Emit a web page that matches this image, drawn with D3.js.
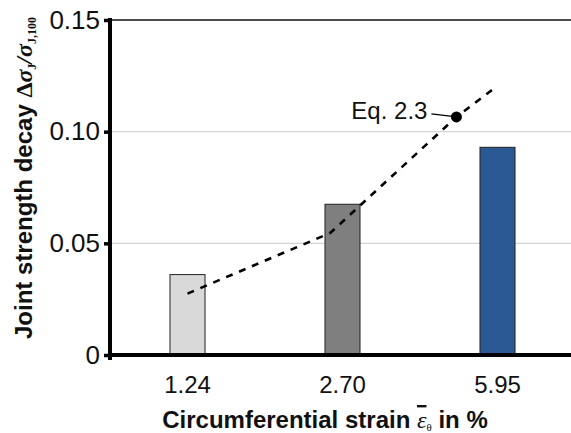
<!DOCTYPE html>
<html>
<head>
<meta charset="utf-8">
<script src="https://cdn.jsdelivr.net/npm/d3@7"></script>
<style>
  html, body { margin: 0; padding: 0; background: #fff; }
  svg { display: block; }
</style>
</head>
<body>
<svg id="chart" width="571" height="433"></svg>
<script>
// Circumferential strain categories and measured joint strength decay
const categories = ["1.24", "2.70", "5.95"];
const decay = [0.036, 0.0675, 0.093];
const barColors = ["#d9d9d9", "#7f7f7f", "#2b5994"];

// Eq. 2.3 curve: position along the strain axis (category index) and value
const eqPos = [0, 0.92, 1.735, 2];
const eqValues = [0.0275, 0.0546, 0.1066, 0.1205];
const eqMarkerIndex = 2;

const yTicks = [0, 0.05, 0.10, 0.15];
const yTickLabels = ["0", "0.05", "0.10", "0.15"];

const svg = d3.select("#chart");
const plotLeft = 110, plotRight = 575, plotTop = 20, plotBottom = 355;

const x = d3.scaleBand().domain(categories).range([plotLeft, plotRight])
  .paddingInner(0.774).paddingOuter(0.387);
const y = d3.scaleLinear().domain([0, 0.15]).range([plotBottom, plotTop]);
const xc = d => x(d) + x.bandwidth() / 2;
const xi = d3.scaleLinear().domain([0, categories.length - 1])
  .range([xc(categories[0]), xc(categories[categories.length - 1])]);

const sans = "'Liberation Sans', Arial, sans-serif";
const serif = "'Liberation Serif', 'Times New Roman', serif";

// gridlines
svg.append("g").selectAll("line").data([0.05, 0.10]).join("line")
  .attr("x1", plotLeft).attr("x2", 571)
  .attr("y1", d => y(d)).attr("y2", d => y(d))
  .attr("stroke", "#d4d4d4").attr("stroke-width", 1.2);
svg.append("line")
  .attr("x1", plotLeft).attr("x2", 571).attr("y1", y(0.15)).attr("y2", y(0.15))
  .attr("stroke", "#111").attr("stroke-width", 1.6);

// bars
svg.append("g").selectAll("rect").data(categories).join("rect")
  .attr("x", d => x(d)).attr("width", x.bandwidth())
  .attr("y", (d, i) => y(decay[i]))
  .attr("height", (d, i) => y(0) - y(decay[i]))
  .attr("fill", (d, i) => barColors[i])
  .attr("stroke", "#222").attr("stroke-width", 1);

// Eq. 2.3 dashed curve
const line = d3.line().x((d, i) => xi(eqPos[i])).y(d => y(d));
svg.append("path").datum(eqValues).attr("d", line)
  .attr("fill", "none").attr("stroke", "#000").attr("stroke-width", 2.6)
  .attr("stroke-dasharray", "7,7");

const mx = xi(eqPos[eqMarkerIndex]), my = y(eqValues[eqMarkerIndex]);
svg.append("line")
  .attr("x1", mx - 25).attr("y1", my - 3).attr("x2", mx).attr("y2", my)
  .attr("stroke", "#000").attr("stroke-width", 1.4);
svg.append("circle").attr("cx", mx).attr("cy", my).attr("r", 5.5).attr("fill", "#000");
svg.append("text").attr("x", mx - 29).attr("y", my + 2)
  .attr("text-anchor", "end").attr("font-family", sans).attr("font-size", 24)
  .attr("fill", "#111").text("Eq. 2.3");

// y axis
const yAxis = d3.axisLeft(y).tickValues(yTicks)
  .tickFormat((d, i) => yTickLabels[i]).tickSize(6).tickPadding(4);
const gy = svg.append("g").attr("transform", `translate(${plotLeft},0)`).call(yAxis);
gy.select(".domain").remove();
gy.selectAll(".tick line").attr("stroke", "#000").attr("stroke-width", 3.5);
gy.selectAll(".tick text").attr("font-family", sans).attr("font-size", 26)
  .attr("fill", "#111");
svg.append("line").attr("x1", plotLeft).attr("x2", plotLeft)
  .attr("y1", plotTop - 2).attr("y2", plotBottom + 5)
  .attr("stroke", "#000").attr("stroke-width", 4);

// x axis
const xAxis = d3.axisBottom(x).tickSize(0).tickPadding(21);
const gx = svg.append("g").attr("transform", `translate(0,${plotBottom})`).call(xAxis);
gx.select(".domain").remove();
gx.selectAll(".tick text").attr("font-family", sans).attr("font-size", 24)
  .attr("fill", "#111");
svg.append("line").attr("x1", plotLeft - 2).attr("x2", 571)
  .attr("y1", plotBottom).attr("y2", plotBottom)
  .attr("stroke", "#000").attr("stroke-width", 4);

// x title (mean strain symbol drawn with an overline)
const xt = svg.append("text").attr("x", 325).attr("y", 428)
  .attr("text-anchor", "middle").attr("font-family", sans)
  .attr("font-weight", "bold").attr("font-size", 24).attr("fill", "#111");
xt.append("tspan").text("Circumferential strain ");
xt.append("tspan").attr("font-family", serif).attr("font-style", "italic")
  .attr("font-weight", "normal").style("text-decoration", "overline").text("ε");
xt.append("tspan").attr("font-family", serif).attr("font-size", 11)
  .attr("font-weight", "normal").attr("dy", 3).text("θ");
xt.append("tspan").attr("dy", -3).text(" in %");

// y title
const yt = svg.append("text")
  .attr("transform", "translate(32,178) rotate(-90)")
  .attr("text-anchor", "middle").attr("font-family", sans)
  .attr("font-weight", "bold").attr("font-size", 24).attr("fill", "#111");
yt.append("tspan").text("Joint strength decay ");
yt.append("tspan").attr("font-family", serif).text("Δ");
yt.append("tspan").attr("font-family", serif).attr("font-style", "italic").text("σ");
yt.append("tspan").attr("font-family", serif).attr("font-size", 12).attr("dy", 4).text("J");
yt.append("tspan").attr("font-family", serif).attr("font-style", "italic").attr("dy", -4).text("/σ");
yt.append("tspan").attr("font-family", serif).attr("font-size", 12).attr("dy", 4).text("J,100");
</script>
</body>
</html>
